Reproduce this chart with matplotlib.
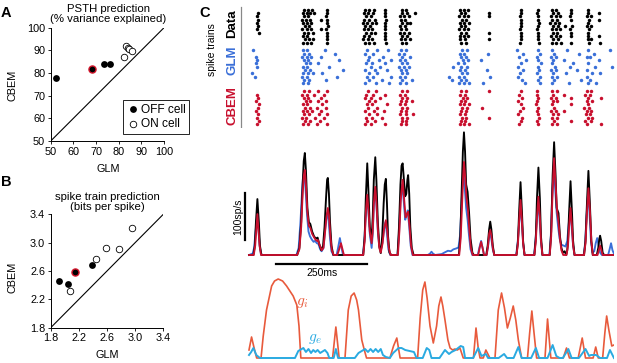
import matplotlib
matplotlib.use('Agg')
import matplotlib.pyplot as plt
import numpy as np

plt.rcParams['font.family'] = ['Liberation Sans', 'DejaVu Sans']
plt.rcParams['mathtext.fontset'] = 'cm'

# ---- panel A: PSTH prediction (% variance explained)
a_off_glm = [52.3, 73.7, 76.2]
a_off_cbem = [77.9, 83.8, 83.8]
a_on_glm = [82.3, 83.3, 83.9, 84.5, 85.7]
a_on_cbem = [87.2, 91.8, 91.0, 90.5, 89.8]
a_ex_glm = [68.2]
a_ex_cbem = [81.6]

# ---- panel B: spike train prediction (bits per spike)
b_off_glm = [1.92, 2.04, 2.39]
b_off_cbem = [2.46, 2.42, 2.69]
b_on_glm = [2.07, 2.45, 2.58, 2.77, 2.95]
b_on_cbem = [2.32, 2.77, 2.92, 2.91, 3.21]
b_ex_glm = [2.14]
b_ex_cbem = [2.59]

# ---- panel C: spike rasters (ms), 11 trials per model
data_trials = [
    [150, 161, 172, 214, 318, 330, 342, 373, 418, 430, 578, 590, 600, 744, 792, 830, 842, 881, 928],
    [24, 147, 158, 168, 178, 214, 315, 327, 339, 374, 420, 433, 455, 580, 592, 658, 745, 790, 834, 846, 883, 930, 958],
    [22, 152, 163, 212, 320, 335, 372, 414, 426, 438, 576, 588, 600, 658, 743, 793, 828, 840, 852, 880, 926, 936],
    [26, 145, 156, 167, 196, 215, 316, 328, 345, 375, 416, 428, 583, 595, 744, 791, 831, 845, 882, 931, 960],
    [21, 149, 160, 171, 213, 312, 324, 336, 348, 372, 419, 432, 441, 578, 590, 602, 746, 794, 826, 838, 850, 929],
    [25, 154, 165, 216, 318, 331, 374, 415, 427, 580, 593, 745, 792, 833, 846, 866, 884, 927, 937],
    [23, 146, 158, 170, 198, 212, 314, 326, 338, 373, 417, 430, 576, 588, 599, 743, 790, 829, 841, 853, 880, 932],
    [27, 151, 162, 174, 214, 320, 333, 346, 372, 414, 426, 438, 581, 594, 658, 744, 793, 832, 844, 881, 928],
    [148, 159, 215, 316, 328, 374, 420, 433, 577, 589, 601, 745, 791, 828, 840, 852, 883, 930, 959],
    [153, 164, 175, 213, 312, 325, 338, 373, 416, 428, 440, 579, 591, 658, 744, 792, 834, 846, 929, 938],
    [147, 158, 169, 214, 318, 330, 343, 375, 418, 431, 582, 594, 743, 794, 830, 842, 854, 882, 931, 962],
]
glm_trials = [
    [10, 148, 160, 208, 322, 350, 381, 416, 430, 583, 596, 735, 792, 830, 870, 928, 990],
    [152, 165, 236, 317, 340, 412, 426, 577, 590, 656, 750, 797, 836, 905, 945],
    [20, 145, 158, 170, 198, 330, 367, 420, 440, 580, 594, 740, 790, 828, 842, 925, 935],
    [21, 150, 163, 246, 325, 355, 388, 414, 428, 586, 600, 636, 758, 793, 834, 862, 958],
    [19, 156, 168, 190, 320, 338, 372, 418, 432, 572, 588, 745, 799, 830, 888, 930],
    [22, 147, 160, 220, 335, 360, 411, 424, 438, 560, 582, 596, 738, 791, 838, 880, 948, 994],
    [153, 166, 258, 318, 345, 378, 416, 430, 578, 592, 652, 752, 795, 827, 840, 899, 927],
    [8, 149, 162, 174, 200, 328, 352, 420, 434, 584, 598, 742, 790, 832, 868, 940, 962],
    [17, 146, 159, 240, 322, 340, 390, 413, 427, 548, 576, 590, 660, 736, 797, 829, 843, 925],
    [151, 164, 212, 330, 365, 418, 446, 555, 580, 594, 748, 792, 835, 910, 933],
    [148, 161, 318, 348, 384, 415, 429, 575, 589, 602, 642, 756, 798, 831, 876, 930, 950],
]
cbem_trials = [
    [152, 164, 190, 215, 325, 348, 418, 432, 582, 594, 658, 744, 790, 830, 843, 926, 938],
    [22, 146, 158, 178, 205, 320, 340, 372, 415, 428, 578, 591, 740, 788, 834, 863, 922, 935],
    [25, 150, 162, 196, 318, 333, 360, 420, 434, 585, 598, 748, 792, 828, 841, 881, 930, 964],
    [18, 155, 168, 188, 212, 328, 345, 416, 430, 446, 580, 593, 736, 790, 832, 845, 925, 940],
    [28, 148, 160, 200, 322, 338, 378, 414, 427, 578, 590, 603, 745, 787, 830, 882, 928],
    [24, 153, 166, 185, 210, 325, 352, 419, 433, 584, 596, 638, 752, 793, 836, 919, 932],
    [20, 147, 159, 172, 198, 318, 342, 370, 417, 430, 581, 594, 742, 789, 828, 842, 862, 927, 938],
    [26, 151, 164, 192, 215, 330, 350, 415, 429, 450, 579, 591, 738, 791, 833, 846, 924, 935],
    [22, 145, 157, 180, 205, 320, 336, 365, 420, 433, 583, 595, 658, 748, 794, 829, 843, 930, 941],
    [27, 154, 167, 195, 324, 344, 418, 431, 580, 592, 744, 790, 835, 881, 922, 936],
    [23, 149, 161, 186, 213, 318, 333, 372, 416, 430, 578, 590, 602, 740, 792, 830, 844, 926, 964],
]

# ---- panel C: PSTHs, (time ms, rate sp/s)
psth_data = [
    (0, 0), (12, 0), (16, 20), (19, 70), (23, 119), (27, 70), (30, 20), (34, 0),
    (132, 0), (138, 15), (143, 70), (147, 150), (150, 200), (153, 217), (156, 180), (160, 100),
    (164, 70), (168, 66), (173, 50), (178, 40), (183, 35), (188, 37), (193, 22), (198, 10),
    (203, 20), (207, 60), (211, 120), (214, 160), (216, 164), (219, 130), (222, 70), (226, 20), (231, 0),
    (313, 0), (317, 40), (320, 120), (324, 195), (327, 140), (331, 60), (336, 36), (339, 80),
    (342, 160), (346, 208), (349, 160), (353, 70), (357, 20), (361, 4), (365, 40), (369, 110),
    (372, 150), (375, 162), (378, 110), (381, 40), (385, 5), (390, 0),
    (407, 0), (411, 60), (415, 150), (418, 190), (421, 195), (424, 165), (428, 125), (431, 130),
    (434, 160), (436, 170), (439, 130), (442, 60), (446, 15), (451, 0),
    (575, 0), (579, 40), (583, 140), (586, 220), (589, 261), (592, 220), (595, 150), (599, 134),
    (603, 90), (607, 35), (612, 5), (616, 0),
    (650, 0), (654, 20), (658, 55), (661, 71), (664, 55), (668, 20), (672, 0),
    (733, 0), (737, 30), (740, 90), (744, 155), (748, 90), (751, 30), (755, 0),
    (782, 0), (786, 40), (789, 120), (793, 186), (797, 120), (800, 40), (804, 0),
    (824, 0), (828, 50), (832, 170), (836, 240), (840, 170), (843, 100), (848, 89), (852, 40),
    (856, 15), (860, 5), (865, 8), (869, 0),
    (872, 10), (874, 30), (877, 90), (881, 157), (885, 90), (888, 30), (892, 0),
    (918, 0), (922, 30), (926, 110), (930, 179), (934, 110), (938, 30), (942, 0),
    (953, 0), (957, 15), (960, 35), (962, 41), (965, 30), (969, 5), (973, 0), (1000, 0),
]
psth_glm = [
    (0, 0), (10, 3), (14, 15), (18, 50), (22, 80), (26, 55), (29, 20), (33, 2), (38, 0),
    (130, 0), (136, 15), (141, 70), (145, 130), (148, 165), (151, 175), (155, 140), (159, 85),
    (163, 50), (167, 40), (172, 33), (177, 28), (181, 30), (186, 25), (190, 24), (195, 12),
    (199, 8), (204, 15), (208, 50), (212, 78), (215, 90), (218, 75), (222, 35), (226, 8), (231, 0),
    (240, 0), (244, 15), (249, 36), (253, 18), (257, 2), (262, 0),
    (312, 0), (316, 30), (320, 85), (323, 120), (327, 95), (331, 45), (336, 15), (339, 45),
    (342, 105), (345, 140), (349, 110), (353, 50), (357, 18), (361, 10), (366, 28), (370, 55),
    (374, 70), (378, 45), (382, 12), (387, 0),
    (407, 0), (411, 45), (415, 115), (420, 150), (424, 115), (428, 75), (432, 85), (435, 95),
    (439, 60), (443, 20), (448, 0),
    (490, 0), (496, 3), (500, 7), (504, 3), (510, 0), (528, 2), (535, 5), (545, 9), (553, 8),
    (560, 12), (568, 14), (574, 16), (578, 40), (582, 100), (585, 150), (588, 170), (591, 145),
    (595, 100), (599, 75), (603, 40), (607, 12), (612, 0),
    (627, 0), (631, 15), (636, 30), (640, 15), (644, 0),
    (651, 0), (655, 18), (658, 38), (661, 45), (664, 35), (668, 12), (672, 0),
    (732, 0), (736, 25), (740, 65), (744, 110), (748, 65), (751, 25), (755, 0),
    (781, 0), (785, 30), (789, 78), (792, 118), (796, 78), (800, 28), (804, 0),
    (823, 0), (827, 40), (831, 130), (835, 190), (839, 140), (843, 90), (847, 60), (851, 35),
    (856, 22), (862, 20), (867, 18), (872, 30), (876, 65), (880, 95), (884, 60), (888, 20), (892, 0),
    (917, 0), (921, 25), (925, 85), (929, 130), (933, 90), (937, 30), (941, 5), (946, 8),
    (950, 25), (954, 36), (958, 20), (962, 5), (967, 0),
    (984, 0), (988, 12), (992, 25), (996, 10), (1000, 3),
]
psth_cbem = [
    (0, 0), (13, 0), (17, 20), (20, 55), (23, 87), (26, 55), (29, 20), (33, 0),
    (132, 0), (138, 12), (143, 60), (147, 130), (150, 168), (153, 181), (156, 150), (160, 90),
    (164, 62), (168, 58), (173, 45), (178, 38), (182, 33), (186, 30), (189, 32), (193, 22),
    (199, 10), (204, 15), (208, 45), (212, 80), (216, 100), (219, 85), (223, 40), (227, 10), (232, 0),
    (242, 0), (247, 12), (252, 25), (256, 12), (260, 0),
    (313, 0), (317, 30), (320, 90), (324, 128), (327, 100), (331, 50), (336, 25), (339, 50),
    (342, 110), (346, 145), (349, 115), (353, 55), (357, 15), (361, 5), (366, 25), (370, 55),
    (375, 74), (379, 50), (383, 15), (388, 0),
    (408, 0), (412, 50), (416, 120), (421, 160), (425, 120), (429, 80), (433, 88), (436, 92),
    (440, 60), (444, 20), (449, 0),
    (576, 0), (580, 35), (584, 110), (587, 170), (589, 198), (592, 170), (596, 120), (600, 95),
    (604, 50), (608, 15), (613, 0),
    (628, 0), (632, 15), (636, 28), (640, 15), (644, 0),
    (651, 0), (655, 20), (658, 45), (661, 53), (664, 42), (668, 15), (672, 0),
    (733, 0), (737, 25), (740, 70), (744, 117), (748, 70), (751, 25), (755, 0),
    (782, 0), (786, 30), (789, 80), (793, 124), (797, 80), (800, 30), (804, 0),
    (824, 0), (828, 40), (832, 140), (836, 206), (840, 150), (844, 95), (848, 70), (852, 35),
    (856, 10), (861, 0),
    (870, 0), (874, 20), (877, 60), (881, 100), (885, 60), (888, 20), (892, 0),
    (918, 0), (922, 25), (926, 90), (930, 142), (934, 95), (938, 30), (942, 0),
    (955, 0), (959, 12), (962, 20), (965, 12), (969, 0), (1000, 0),
]

# ---- panel C: conductances (time ms, arbitrary units)
g_inh = [
    (0, 8), (7, 21), (14, 10), (21, 0), (33, 0), (39, 22), (48, 48), (62, 72), (70, 77), (80, 79),
    (92, 77), (103, 72), (121, 62), (131, 53), (137, 32), (142, 0), (229, 0), (238, 31), (247, 0),
    (263, 0), (272, 48), (280, 62), (288, 65), (295, 58), (300, 48), (309, 18), (316, 8), (322, 0),
    (386, 0), (396, 12), (405, 20), (414, 0), (462, 0), (469, 40), (476, 68), (482, 76), (488, 60),
    (496, 32), (505, 15), (514, 32), (520, 52), (526, 61), (531, 52), (537, 38), (545, 18),
    (551, 10), (558, 8), (564, 9), (571, 8), (578, 10), (587, 0), (615, 0), (622, 30), (628, 10),
    (633, 0), (642, 0), (649, 8), (660, 0), (674, 0), (683, 48), (692, 65), (700, 50), (708, 30),
    (716, 40), (724, 52), (731, 38), (738, 18), (747, 0), (763, 0), (769, 25), (775, 47),
    (781, 25), (788, 0), (811, 0), (818, 39), (827, 0), (861, 0), (870, 10), (878, 0), (902, 0),
    (913, 20), (922, 0), (943, 0), (950, 11), (957, 0), (969, 0), (975, 25), (980, 42), (986, 28),
    (994, 12), (1000, 13),
]
g_exc = [
    (0, 3), (6, 6), (12, 10), (20, 3), (30, 0), (126, 0), (135, 7), (149, 10), (156, 6), (163, 9),
    (170, 5), (176, 8), (182, 6), (188, 8), (195, 5), (208, 8), (215, 5), (220, 0), (232, 0),
    (238, 9), (244, 0), (290, 0), (300, 5), (318, 9), (326, 6), (333, 9), (340, 6), (347, 9),
    (354, 6), (361, 9), (367, 3), (375, 1), (386, 0), (395, 5), (410, 10), (418, 10), (428, 8),
    (440, 7), (452, 6), (459, 0), (476, 0), (487, 10), (494, 8), (500, 0), (522, 0), (537, 8),
    (548, 4), (555, 6), (566, 8), (580, 12), (587, 11), (592, 0), (614, 0), (628, 10), (637, 2),
    (649, 4), (655, 0), (684, 0), (699, 4), (707, 0), (725, 0), (738, 11), (747, 0), (773, 0),
    (786, 10), (795, 0), (818, 0), (832, 13), (842, 2), (851, 0), (860, 0), (875, 9), (884, 0),
    (904, 0), (922, 9), (932, 2), (937, 3), (951, 3), (962, 0), (981, 0), (989, 8), (1000, 0),
]

BLUE = '#3a6fd8'
RED = '#c8102e'
GI_COL = '#e85a3c'
GE_COL = '#2aaae1'

W, H = 617, 363
fig = plt.figure(figsize=(W / 100, H / 100), dpi=100)


def px_axes(x0, y0, x1, y1):
    return fig.add_axes([x0 / W, 1 - y1 / H, (x1 - x0) / W, (y1 - y0) / H])


def ftext(x, y, s, **kw):
    fig.text(x / W, 1 - y / H, s, **kw)


def scatter_panel(ax, lo, hi, off, on, ex, ticks, fmt):
    ax.plot([lo, hi], [lo, hi], color='k', lw=0.8, zorder=1)
    h_off = ax.scatter(off[0], off[1], s=24, c='k', lw=0, zorder=3, clip_on=False)
    h_on = ax.scatter(on[0], on[1], s=22, facecolors='white', edgecolors='k', lw=0.6,
                      zorder=3, clip_on=False)
    ax.scatter(ex[0], ex[1], s=26, c='k', edgecolors='#d4162c', lw=1.0, zorder=4)
    ax.set_xlim(lo, hi)
    ax.set_ylim(lo, hi)
    ax.set_xticks(ticks)
    ax.set_yticks(ticks)
    ax.set_xticklabels([fmt.format(t) for t in ticks])
    ax.set_yticklabels([fmt.format(t) for t in ticks])
    for s in ['top', 'right']:
        ax.spines[s].set_visible(False)
    for s in ['left', 'bottom']:
        ax.spines[s].set_linewidth(0.7)
    ax.tick_params(labelsize=7.8, length=2.5, width=0.6, pad=1.5)
    return h_off, h_on


# panel A
axA = px_axes(50.7, 27.7, 164, 141)
h_off, h_on = scatter_panel(axA, 50, 100, (a_off_glm, a_off_cbem), (a_on_glm, a_on_cbem),
                            (a_ex_glm, a_ex_cbem), [50, 60, 70, 80, 90, 100], '{:d}')
leg = axA.legend([h_off, h_on], ['OFF cell', 'ON cell'], loc='upper left',
                 bbox_to_anchor=(123 / W, 1 - 100 / H), bbox_transform=fig.transFigure,
                 borderaxespad=0, fontsize=8.6, frameon=True, fancybox=False, framealpha=1,
                 edgecolor='k', handletextpad=0.1, handlelength=1.1, borderpad=0.3,
                 labelspacing=0.2)
leg.get_frame().set_linewidth(0.6)
ftext(108, 14, 'PSTH prediction\n(% variance explained)', ha='center', va='center',
      fontsize=8.2, linespacing=1.0)
ftext(13, 85, 'CBEM', rotation=90, ha='center', va='center', fontsize=7.8)
ftext(108, 169, 'GLM', ha='center', va='center', fontsize=7.8)
ftext(6, 13, 'A', fontweight='bold', fontsize=10.5, ha='center', va='center')

# panel B
axB = px_axes(50.7, 214.3, 163.3, 327.7)
scatter_panel(axB, 1.8, 3.4, (b_off_glm, b_off_cbem), (b_on_glm, b_on_cbem),
              (b_ex_glm, b_ex_cbem), [1.8, 2.2, 2.6, 3.0, 3.4], '{:.1f}')
ftext(107, 201.5, 'spike train prediction\n(bits per spike)', ha='center', va='center',
      fontsize=8.2, linespacing=1.0)
ftext(13, 277, 'CBEM', rotation=90, ha='center', va='center', fontsize=7.8)
ftext(107, 355, 'GLM', ha='center', va='center', fontsize=7.8)
ftext(6, 182, 'B', fontweight='bold', fontsize=10.5, ha='center', va='center')

# panel C: shared time mapping, 2.74 ms per pixel starting at x=249
X0, X1 = 238, 614
T0, T1 = (X0 - 249) * 2.74, (X1 - 249) * 2.74

axR = px_axes(X0, 5, X1, 128)
axR.set_xlim(T0, T1)
axR.set_ylim(35.85, -1.42)
for rows, col, off in [(data_trials, 'k', 0), (glm_trials, BLUE, 12.3), (cbem_trials, RED, 24.7)]:
    for i, tr in enumerate(rows):
        axR.plot(tr, [off + i] * len(tr), 'o', ms=2.5, mew=0, color=col)
axR.plot([-22.7, -22.7], [-0.9, 35.45], color='#888888', lw=0.9)
axR.axis('off')

axP = px_axes(X0, 128, X1, 262)
axP.set_xlim(T0, T1)
axP.set_ylim(-14.9, 270.2)
for series, col in [(psth_glm, BLUE), (psth_data, 'k'), (psth_cbem, RED)]:
    t, r = np.array(series).T
    axP.plot(t, r, color=col, lw=1.35, solid_joinstyle='round')
axP.plot([-11, -11], [32, 132], color='k', lw=1.6, clip_on=False)
axP.text(-29, 82, '100sp/s', rotation=90, ha='center', va='center', fontsize=7.5,
         clip_on=False)
axP.plot([74, 324], [-19, -19], color='k', lw=1.6, clip_on=False)
axP.text(199, -38, '250ms', ha='center', va='center', fontsize=7.5, clip_on=False)
axP.axis('off')

axG = px_axes(X0, 262, X1, 363)
axG.set_xlim(T0, T1)
axG.set_ylim(-5, 96)
t, g = np.array(g_inh).T
axG.plot(t, g, color=GI_COL, lw=1.2)
t, g = np.array(g_exc).T
axG.plot(t, g, color=GE_COL, lw=1.4)
axG.text(145, 55, '$g_i$', color=GI_COL, fontsize=11, ha='center', va='center')
axG.text(182, 19, '$g_e$', color=GE_COL, fontsize=11, ha='center', va='center')
axG.axis('off')
for ax in (axR, axP, axG):
    ax.patch.set_visible(False)

ftext(212, 50, 'spike trains', rotation=90, ha='center', va='center', fontsize=7.5)
ftext(232, 24, 'Data', rotation=90, ha='center', va='center', fontsize=9.5, fontweight='bold')
ftext(232, 60, 'GLM', rotation=90, ha='center', va='center', fontsize=9.5, fontweight='bold',
      color=BLUE)
ftext(232, 106, 'CBEM', rotation=90, ha='center', va='center', fontsize=9.5, fontweight='bold',
      color=RED)
ftext(205, 13, 'C', fontweight='bold', fontsize=10.5, ha='center', va='center')

fig.savefig('out.png', dpi=100)
